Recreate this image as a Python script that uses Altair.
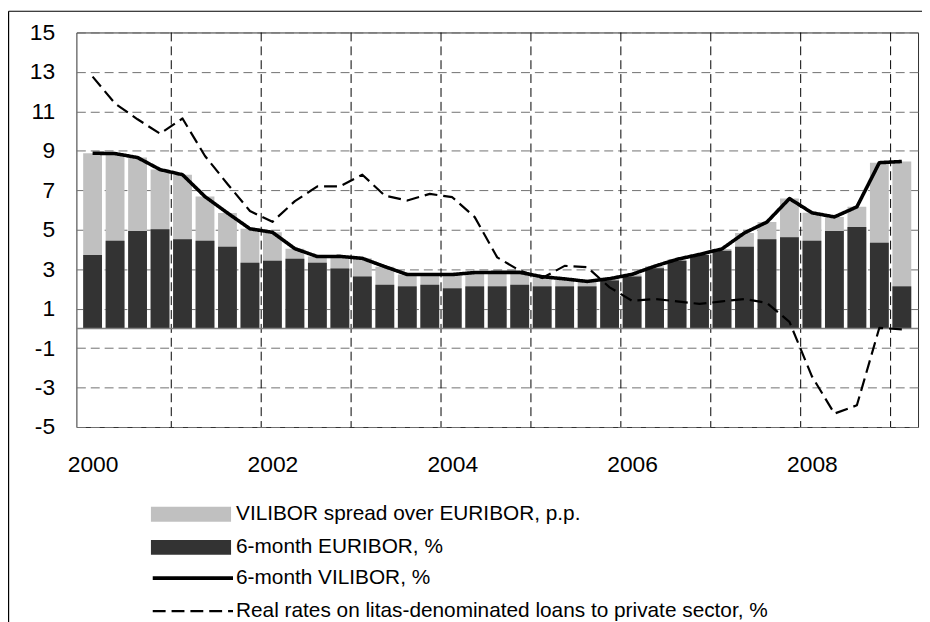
import altair as alt
import pandas as pd

# ---- data -------------------------------------------------------------
years = [2000, 2001, 2002, 2003, 2004, 2005, 2006, 2007, 2008, 2009]
quarter_offsets = [0.0, 0.25, 0.5, 0.75]
n_quarters = 37  # 2000Q1 .. 2009Q1

vilibor = [8.88, 8.86, 8.66, 8.05, 7.79, 6.68, 5.85, 5.05, 4.87, 4.04, 3.64, 3.65,
           3.55, 3.13, 2.73, 2.73, 2.73, 2.83, 2.84, 2.84, 2.62, 2.51, 2.38, 2.52,
           2.74, 3.15, 3.50, 3.75, 4.03, 4.84, 5.39, 6.58, 5.86, 5.65, 6.16, 8.40, 8.46]
euribor = [3.72, 4.44, 4.94, 5.03, 4.52, 4.44, 4.14, 3.33, 3.43, 3.53, 3.33, 3.03,
           2.63, 2.21, 2.13, 2.21, 2.03, 2.13, 2.13, 2.21, 2.13, 2.13, 2.13, 2.43,
           2.63, 3.05, 3.43, 3.72, 3.94, 4.14, 4.52, 4.62, 4.44, 4.94, 5.14, 4.34, 2.13]
real_rates = [12.76, 11.40, 10.60, 9.87, 10.64, 8.74, 7.32, 5.95, 5.40, 6.45, 7.20, 7.20,
              7.79, 6.73, 6.48, 6.82, 6.65, 5.64, 3.60, 2.93, 2.55, 3.17, 3.10, 2.08,
              1.40, 1.49, 1.37, 1.24, 1.37, 1.49, 1.29, 0.33, -2.43, -4.32, -3.90, 0.03, -0.05]

year_boundaries = [2000.875, 2001.875, 2002.875, 2003.875, 2004.875,
                   2005.875, 2006.875, 2007.875, 2008.875]
x_labels = [2000, 2002, 2004, 2006, 2008]
y_ticks = [-5, -3, -1, 1, 3, 5, 7, 9, 11, 13, 15]

lbl_spread = "VILIBOR spread over EURIBOR, p.p."
lbl_euribor = "6-month EURIBOR, %"
lbl_vilibor = "6-month VILIBOR, %"
lbl_real = "Real rates on litas-denominated loans to private sector, %"

# ---- tables -----------------------------------------------------------
t = [y + q for y in years for q in quarter_offsets][:n_quarters]

bars_df = pd.DataFrame({
    "t": t + t,
    "series": [lbl_spread] * n_quarters + [lbl_euribor] * n_quarters,
    "value": vilibor + euribor,
    "ord": [0] * n_quarters + [1] * n_quarters,
})
lines_df = pd.DataFrame({
    "t": t + t,
    "series": [lbl_vilibor] * n_quarters + [lbl_real] * n_quarters,
    "value": vilibor + real_rates,
})
vgrid_df = pd.DataFrame({"t": year_boundaries})
zero_df = pd.DataFrame({"value": [0]})

FONT = "Liberation Sans"

xscale = alt.Scale(domain=[1999.875, 2009.125], nice=False, zero=False)
yscale = alt.Scale(domain=[-5, 15], nice=False, zero=False)

x_axis = alt.Axis(values=x_labels, format="d", grid=False, ticks=False,
                  domain=False, labelFontSize=23, labelFont=FONT,
                  labelColor="black", labelPadding=27, title=None,
                  labelFlush=False)
y_axis = alt.Axis(values=y_ticks, grid=True, gridColor="#707070", gridDash=[9, 5],
                  gridWidth=1, ticks=False, domain=False, labelFontSize=23,
                  labelExpr="'' + datum.value",
                  labelFont=FONT, labelColor="black", labelPadding=22, title=None)


def X():
    return alt.X("t:Q", scale=xscale, axis=x_axis)


def Y():
    return alt.Y("value:Q", scale=yscale, axis=y_axis, stack=None)


vgrid = alt.Chart(vgrid_df).mark_rule(color="black", strokeDash=[9, 5], strokeWidth=1).encode(
    x=X()
)

bar_legend = alt.Legend(title=None, orient="none", legendX=75, legendY=476,
                        symbolType="M-1,-0.185H1V0.185H-1Z", symbolSize=6561,
                        symbolStrokeWidth=0, clipHeight=20, rowPadding=12.4,
                        labelFontSize=21, labelFont=FONT, labelColor="black",
                        labelOffset=5, labelLimit=900, padding=0)

bars = alt.Chart(bars_df).mark_bar(size=19).encode(
    x=X(),
    y=Y(),
    fill=alt.Fill("series:N",
                  scale=alt.Scale(domain=[lbl_spread, lbl_euribor], range=["#C0C0C0", "#333333"]),
                  legend=bar_legend),
    order=alt.Order("ord:Q"),
)

zero = alt.Chart(zero_df).mark_rule(color="#808080", strokeWidth=1.5).encode(
    y=Y()
)

line_legend = alt.Legend(title=None, orient="none", legendX=75, legendY=540.4,
                         symbolType="stroke", symbolSize=6561, symbolStrokeColor="black",
                         clipHeight=20, rowPadding=12.4,
                         labelFontSize=21, labelFont=FONT, labelColor="black",
                         labelOffset=1, labelLimit=900, padding=0)

lines = alt.Chart(lines_df).mark_line(color="black", strokeJoin="round").encode(
    x=X(),
    y=Y(),
    strokeDash=alt.StrokeDash("series:N",
                              scale=alt.Scale(domain=[lbl_vilibor, lbl_real], range=[[1, 0], [13, 6]]),
                              legend=line_legend),
    strokeWidth=alt.StrokeWidth("series:N",
                                scale=alt.Scale(domain=[lbl_vilibor, lbl_real], range=[3.6, 2.2]),
                                legend=line_legend),
)

# outer chart frame (left and top edges), decoration only
frame_left = alt.Chart(zero_df).mark_rule(color="black", strokeWidth=1.2).encode(
    x=alt.value(-68.4), y=alt.value(-21.5), y2=alt.value(620)
)
frame_top = alt.Chart(zero_df).mark_rule(color="black", strokeWidth=1.2).encode(
    x=alt.value(-68.4), x2=alt.value(870), y=alt.value(-21.4)
)

chart = alt.layer(vgrid, bars, zero, lines, frame_left, frame_top).properties(
    width=849, height=398,
    autosize=alt.AutoSizeParams(type="none"),
    padding={"left": 69, "top": 22, "right": 4, "bottom": 194},
    background="white",
).configure_view(stroke="#303030", strokeWidth=1)

chart.save("out.html", embed_options={"renderer": "svg", "actions": False})
